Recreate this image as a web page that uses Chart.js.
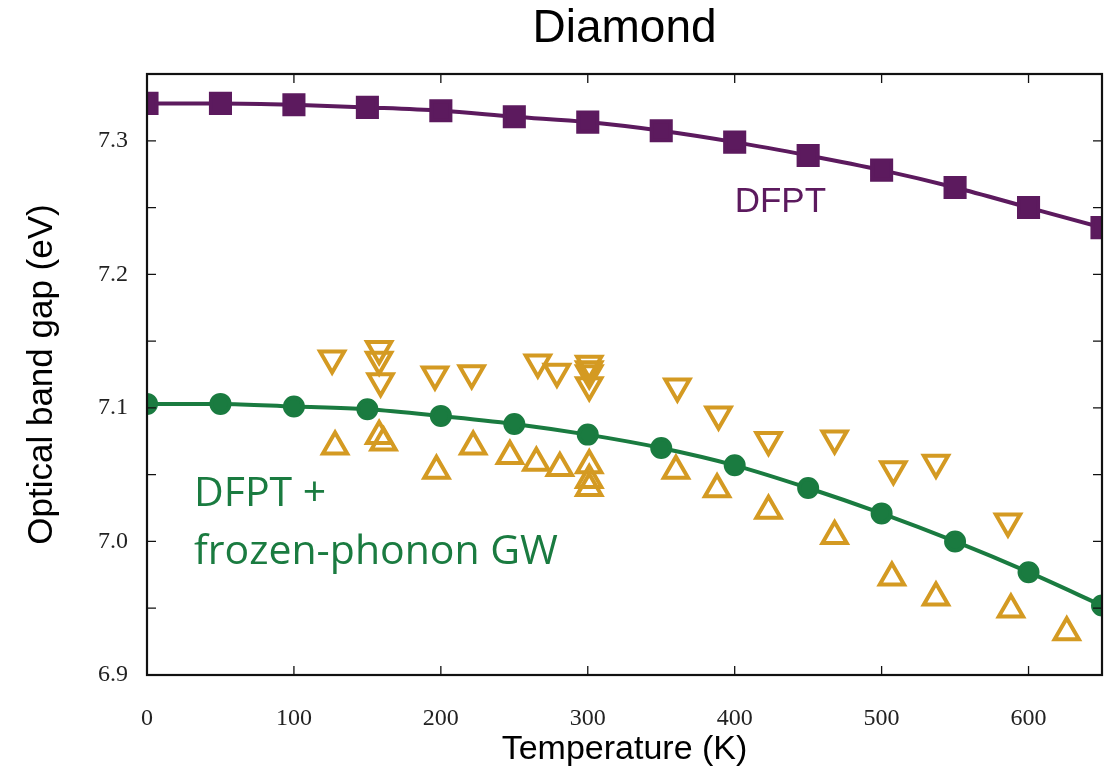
<!DOCTYPE html>
<html>
<head>
<meta charset="utf-8">
<script src="https://cdn.jsdelivr.net/npm/chart.js@4.4.1/dist/chart.umd.min.js"></script>
<style>
  html, body { margin: 0; padding: 0; background: #fff; }
  #wrap { width: 1120px; height: 773px; }
</style>
</head>
<body>
<div id="wrap"><canvas id="gapChart" width="1120" height="773"></canvas></div>
<script>
// Temperaturas de las curvas (K)
const temps = [0, 50, 100, 150, 200, 250, 300, 350, 400, 450, 500, 550, 600, 650];
// DFPT (cuadrados morados)
const dfptGap = [7.328, 7.328, 7.327, 7.325, 7.3225, 7.318, 7.314, 7.3075, 7.299, 7.289, 7.278, 7.265, 7.250, 7.235];
// DFPT + frozen-phonon GW (círculos verdes)
const gwGap = [7.103, 7.103, 7.101, 7.099, 7.094, 7.088, 7.080, 7.070, 7.057, 7.040, 7.021, 7.000, 6.977, 6.952];

// Triángulos hacia arriba
const upT   = [128, 158, 161, 197, 222, 247, 265, 281, 301, 301, 301, 360, 388, 423, 468, 507, 537, 588, 626];
const upGap = [7.071, 7.079, 7.074, 7.053, 7.071, 7.064, 7.059, 7.055, 7.057, 7.046, 7.040, 7.053, 7.039, 7.023, 7.004, 6.973, 6.958, 6.949, 6.932];

// Triángulos hacia abajo
const downT   = [126, 158, 158, 159, 196, 221, 266, 279, 301, 301, 301, 301, 361, 389, 423, 468, 508, 537, 586];
const downGap = [7.137, 7.144, 7.136, 7.120, 7.125, 7.126, 7.134, 7.127, 7.133, 7.129, 7.126, 7.117, 7.116, 7.095, 7.076, 7.077, 7.054, 7.059, 7.015];

// Ticks de los ejes
const xTicks = [0, 100, 200, 300, 400, 500, 600];
const yTicks = [6.9, 7.0, 7.1, 7.2, 7.3];
const yMinorTicks = [6.95, 7.05, 7.15, 7.25];

const purple = '#5c1a5e';
const green = '#1a7b40';
const orange = '#d49a22';

function toXY(xs, ys) {
    return xs.map((x, i) => ({ x: x, y: ys[i] }));
}

// Marco y ticks hacia dentro
const frameTicks = {
    id: 'frameTicks',
    afterDatasetsDraw(chart) {
        const { ctx, chartArea: a, scales: { x, y } } = chart;
        ctx.save();
        ctx.strokeStyle = '#111';
        ctx.lineWidth = 1.3;
        ctx.beginPath();
        xTicks.forEach(v => {
            const px = x.getPixelForValue(v);
            ctx.moveTo(px, a.bottom); ctx.lineTo(px, a.bottom - 9);
            ctx.moveTo(px, a.top); ctx.lineTo(px, a.top + 9);
        });
        yTicks.concat(yMinorTicks).forEach(v => {
            const py = y.getPixelForValue(v);
            ctx.moveTo(a.left, py); ctx.lineTo(a.left + 9, py);
            ctx.moveTo(a.right, py); ctx.lineTo(a.right - 9, py);
        });
        ctx.stroke();
        ctx.lineWidth = 2.2;
        ctx.strokeRect(a.left, a.top, a.width, a.height);
        ctx.restore();
    }
};

// Etiquetas dentro del gráfico
const seriesLabels = {
    id: 'seriesLabels',
    afterDraw(chart) {
        const { ctx, scales: { x, y } } = chart;
        ctx.save();
        ctx.textAlign = 'left';
        ctx.textBaseline = 'middle';
        ctx.fillStyle = purple;
        ctx.font = '35px "Liberation Sans", sans-serif';
        ctx.fillText('DFPT', x.getPixelForValue(400), y.getPixelForValue(7.254));
        ctx.fillStyle = green;
        ctx.font = '41px "Open Sans", sans-serif';
        ctx.fillText('DFPT +', x.getPixelForValue(32), y.getPixelForValue(7.035));
        ctx.fillText('frozen-phonon GW', x.getPixelForValue(32), y.getPixelForValue(6.992));
        ctx.restore();
    }
};

const config = {
    type: 'line',
    data: {
        datasets: [
            {
                label: 'DFPT',
                data: toXY(temps, dfptGap),
                borderColor: purple,
                backgroundColor: purple,
                borderWidth: 4,
                pointStyle: 'rect',
                pointRadius: 13.5,
                cubicInterpolationMode: 'monotone',
                clip: 0,
            },
            {
                label: 'DFPT + frozen-phonon GW',
                data: toXY(temps, gwGap),
                borderColor: green,
                backgroundColor: green,
                borderWidth: 4,
                pointStyle: 'circle',
                pointRadius: 9,
                cubicInterpolationMode: 'monotone',
                clip: 0,
            },
            {
                label: 'up',
                data: toXY(upT, upGap),
                showLine: false,
                borderColor: orange,
                backgroundColor: 'rgba(255,255,255,0)',
                pointStyle: 'triangle',
                pointRadius: 14,
                pointBorderWidth: 4,
                clip: 0,
            },
            {
                label: 'down',
                data: toXY(downT, downGap),
                showLine: false,
                borderColor: orange,
                backgroundColor: 'rgba(255,255,255,0)',
                pointStyle: 'triangle',
                pointRotation: 180,
                pointRadius: 14,
                pointBorderWidth: 4,
                clip: 0,
            },
        ],
    },
    options: {
        responsive: false,
        animation: false,
        events: [],
        layout: { padding: { left: 0, right: 15, top: 0, bottom: 0 } },
        plugins: {
            legend: { display: false },
            tooltip: { enabled: false },
            title: {
                display: true,
                text: 'Diamond',
                fullSize: false,
                color: '#000',
                font: { family: '"Liberation Sans", Arial, sans-serif', size: 46, weight: 'normal', lineHeight: 1.2 },
                padding: { top: 2, bottom: 16.8 },
            },
        },
        scales: {
            x: {
                type: 'linear',
                min: 0,
                max: 650,
                afterBuildTicks: axis => { axis.ticks = xTicks.map(v => ({ value: v })); },
                afterFit: axis => { axis.height = 98; },
                grid: { display: false, drawTicks: false },
                border: { display: false },
                ticks: {
                    color: '#222',
                    padding: 29,
                    maxRotation: 0,
                    font: { family: '"Liberation Serif", serif', size: 24 },
                },
                title: {
                    display: true,
                    text: 'Temperature (K)',
                    color: '#000',
                    font: { family: '"Liberation Sans", Arial, sans-serif', size: 34 },
                    padding: { top: 0, bottom: 2.6 },
                },
            },
            y: {
                type: 'linear',
                min: 6.9,
                max: 7.35,
                afterBuildTicks: axis => { axis.ticks = yTicks.map(v => ({ value: v })); },
                afterFit: axis => { axis.width = 147; },
                grid: { display: false, drawTicks: false },
                border: { display: false },
                ticks: {
                    color: '#222',
                    padding: 19,
                    callback: v => v.toFixed(1),
                    font: { family: '"Liberation Serif", serif', size: 24 },
                },
                title: {
                    display: true,
                    text: 'Optical band gap (eV)',
                    color: '#000',
                    font: { family: '"Liberation Sans", Arial, sans-serif', size: 35 },
                    padding: { top: 21, bottom: 0 },
                },
            },
        },
    },
    plugins: [frameTicks, seriesLabels],
};

const ctx = document.getElementById('gapChart').getContext('2d');
new Chart(ctx, config);
</script>
</body>
</html>
